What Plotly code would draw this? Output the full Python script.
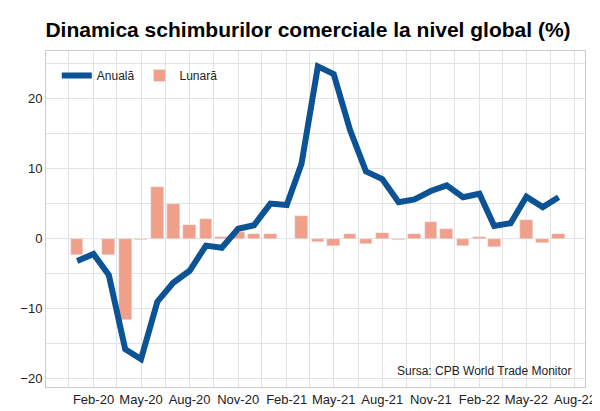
import pandas as pd
import plotly.graph_objects as go

months = pd.date_range("2020-01-01", "2022-07-01", freq="MS")

anuala = [-3.2, -2.2, -5.2, -15.8, -17.2, -9.0, -6.3, -4.6, -1.0, -1.3, 1.4, 1.9,
          5.0, 4.8, 10.7, 24.6, 23.5, 15.5, 9.6, 8.5, 5.2, 5.6, 6.8, 7.6,
          5.9, 6.4, 1.8, 2.2, 6.0, 4.5, 5.9]
lunara = [-2.3, 0.0, -2.3, -11.6, -0.2, 7.4, 4.9, 1.9, 2.8, 0.2, 1.0, 0.7,
          0.6, -0.1, 3.2, -0.5, -1.0, 0.7, -0.7, 0.8, -0.2, 0.6, 2.4, 1.4,
          -1.0, 0.2, -1.2, -0.1, 2.6, -0.6, 0.6]

tick_vals = pd.date_range("2020-02-01", "2022-08-01", freq="3MS")
tick_text = [d.strftime("%b-%y") for d in tick_vals]

fig = go.Figure()
fig.add_trace(go.Bar(x=months, y=lunara, name="Lunară", marker_color="#f0a08a",
                     width=1000 * 3600 * 24 * 24))
fig.add_trace(go.Scatter(x=months, y=anuala, name="Anuală", mode="lines",
                         line=dict(color="#0b5394", width=6)))

fig.update_layout(
    width=600, height=411,
    font=dict(family="Liberation Sans, Arial", size=13, color="#222"),
    title=dict(text="<b>Dinamica schimburilor comerciale la nivel global (%)</b>",
               x=0.5, xanchor="center", y=0.965, font=dict(size=21, color="black")),
    plot_bgcolor="white", paper_bgcolor="white",
    margin=dict(l=33, r=22, t=43, b=30),
    legend=dict(orientation="h", x=0.02, y=0.97, bgcolor="rgba(0,0,0,0)",
                traceorder="reversed", font=dict(size=12)),
    bargap=0,
    annotations=[dict(text="Sursa: CPB World Trade Monitor", xref="paper", yref="paper",
                      x=0.98, y=0.02, xanchor="right", yanchor="bottom",
                      showarrow=False, font=dict(size=12))],
)
fig.update_xaxes(type="date", range=["2019-11-03", "2022-08-20"],
                 tickvals=tick_vals, ticktext=tick_text, showgrid=True,
                 gridcolor="#e3e3e3", showline=True, linecolor="#ccc", mirror=True,
                 minor=dict(dtick="M3", tick0="2020-03-16", showgrid=True, gridcolor="#e3e3e3"))
fig.update_yaxes(range=[-21.2, 26.8], tickvals=[-20, -10, 0, 10, 20], showgrid=True,
                 gridcolor="#e3e3e3", zeroline=False, showline=True, linecolor="#ccc",
                 mirror=True, minor=dict(dtick=5, showgrid=True, gridcolor="#e3e3e3"))

fig.write_html("out.html")
